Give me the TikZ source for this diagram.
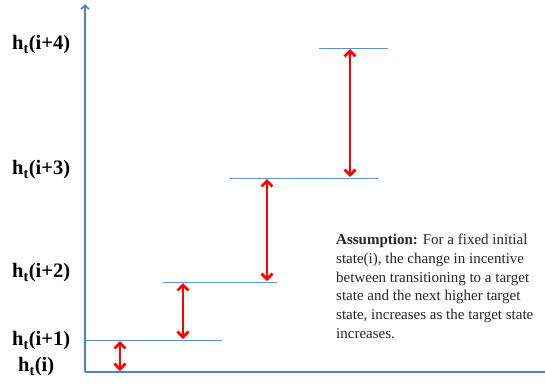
\documentclass[tikz,border=0pt]{standalone}
\usepackage{fontspec}
\setmainfont{Liberation Serif}
\usetikzlibrary{arrows.meta}
\definecolor{axisblue}{RGB}{79,129,189}
\definecolor{levelblue}{RGB}{95,145,205}
\newcommand{\lvlfont}{\fontsize{20.5}{22}\selectfont\bfseries}
\newcommand{\notefont}{\fontsize{15}{18.7}\selectfont}
\tikzset{
  axisline/.style={draw=axisblue, line width=1.6pt},
  levelline/.style={draw=levelblue, line width=1pt},
  gap/.style={draw=red, line width=2.8pt, {Straight Barb[length=5.5pt,width=11pt]}-{Straight Barb[length=5.5pt,width=11pt]}},
  lvl/.style={inner sep=0pt, anchor=west},
}
\begin{document}
\begin{tikzpicture}[x=1pt,y=-1pt]
\useasboundingbox (0,0) rectangle (545,386);
% axes
\coordinate (origin) at (85,372);
\coordinate (ytop) at (85,4);
\coordinate (xend) at (545,372);
\draw[axisline, -{Straight Barb[length=4pt,width=8pt]}] (origin) -- (ytop);
\draw[axisline] (origin) -- (xend);
% levels
\coordinate (l1a) at (85,340);  \coordinate (l1b) at (222,340);
\coordinate (l2a) at (163,282); \coordinate (l2b) at (277,282);
\coordinate (l3a) at (230,178); \coordinate (l3b) at (378,178);
\coordinate (l4a) at (319,48);  \coordinate (l4b) at (388,48);
\draw[levelline] (l1a) -- (l1b);
\draw[levelline] (l2a) -- (l2b);
\draw[levelline] (l3a) -- (l3b);
\draw[levelline] (l4a) -- (l4b);
% gap arrows
\coordinate (g1t) at (120,341); \coordinate (g1b) at (120,371);
\coordinate (g2t) at (183,283); \coordinate (g2b) at (183,339);
\coordinate (g3t) at (267,179); \coordinate (g3b) at (267,281);
\coordinate (g4t) at (350,49);  \coordinate (g4b) at (350,177);
\draw[gap] (g1t) -- (g1b);
\draw[gap] (g2t) -- (g2b);
\draw[gap] (g3t) -- (g3b);
\draw[gap] (g4t) -- (g4b);
% labels
\node[lvl] (h4) at (12,45) {\lvlfont h\textsubscript{t}(i+4)};
\node[lvl] (h3) at (12,170) {\lvlfont h\textsubscript{t}(i+3)};
\node[lvl] (h2) at (12,273) {\lvlfont h\textsubscript{t}(i+2)};
\node[lvl] (h1) at (12,341) {\lvlfont h\textsubscript{t}(i+1)};
\node[lvl] (h0) at (18,367) {\lvlfont h\textsubscript{t}(i)};
% assumption
\node[anchor=north west, align=left, inner sep=0pt, text=black!85, font=\notefont] (note) at (336,234)
{\textbf{Assumption:} For a fixed initial\\
state(i), the change in incentive\\
between transitioning to a target\\
state and the next higher target\\
state, increases as the target state\\
increases.};
\end{tikzpicture}
\end{document}
